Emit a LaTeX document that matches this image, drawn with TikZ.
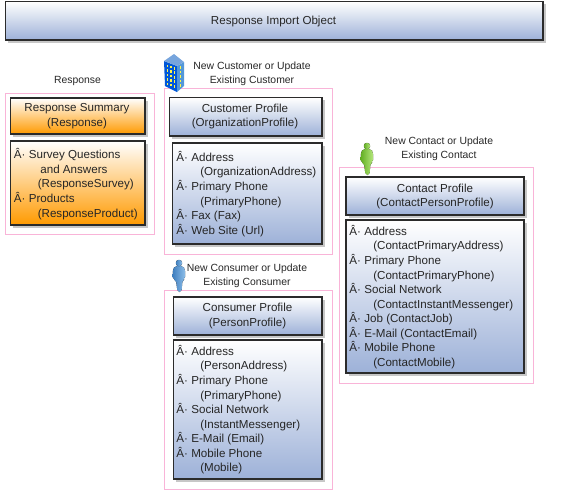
\documentclass[tikz,border=0pt]{standalone}
\usepackage{fontspec}
\usepackage{xcolor}
\setmainfont{Liberation Sans}
\usetikzlibrary{shadows}

\definecolor{framepink}{HTML}{F9B4D8}
\definecolor{boxblue}{HTML}{9DB1D8}
\definecolor{boxorange}{HTML}{FF9A00}
\definecolor{boxedge}{HTML}{2B2B2B}
\definecolor{persblue}{HTML}{3F7FBF}
\definecolor{persbluelt}{HTML}{8CBDE8}
\definecolor{persgreen}{HTML}{62AE22}
\definecolor{persgreenlt}{HTML}{B4E67C}
\newcommand{\itm}{Â·\hspace{2.6pt}}
\newcommand{\ind}{\hspace*{18pt}}

\tikzset{
    bluebox/.style={draw=boxedge, line width=0.9pt, top color=white, bottom color=boxblue,
        drop shadow={shadow xshift=2.2pt, shadow yshift=-2.2pt, fill=black!22, opacity=1}},
    orangebox/.style={draw=boxedge, line width=0.9pt, top color=white, bottom color=boxorange,
        drop shadow={shadow xshift=2.2pt, shadow yshift=-2.2pt, fill=black!22, opacity=1}},
    pinkframe/.style={draw=framepink, line width=0.7pt},
    grouplabel/.style={align=center, font=\fontsize{7.8}{10.7}\selectfont},
    pics/personicon/.style 2 args={code={
        \fill[left color=#1, right color=#2, rounded corners=1.5pt]
            (-4,7) -- (4,7) -- (6,10) -- (6,20) -- (3.5,21) -- (2.5,33) -- (-1.5,33) -- (-3,21) -- (-6.5,20) -- (-6,10) -- cycle;
        \fill[left color=#1, right color=#2] (0,4) circle (3.2);
    }}
}

\begin{document}
\begin{tikzpicture}[x=0.75pt, y=-0.75pt, every node/.style={font=\fontsize{8.7}{10.9}\selectfont, text=black!85, inner sep=0pt}]
    \useasboundingbox (0,0) rectangle (573,490);

    % Import object
    \draw[bluebox] (5.5,1.5) rectangle (543,40);
    \node[align=center] (importobj) at (273.5,21.5) {Response Import Object};

    % Response
    \draw[pinkframe] (5.5,93) rectangle (154.5,234);
    \node[grouplabel] (resplabel) at (77.5,81) {Response};
    \draw[orangebox] (10.5,98) rectangle (145,134);
    \node[align=center] (respsummary) at (77,116) {Response Summary\\(Response)};
    \draw[orangebox] (10.5,141) rectangle (145,225);
    \node[align=left, anchor=north west] (resplist) at (13.5,148.5)
        {\itm Survey Questions\\
         \hspace*{20pt}and Answers\\
         \ind (ResponseSurvey)\\
         \itm Products\\
         \ind (ResponseProduct)};

    % Customer
    \draw[pinkframe] (164,88.5) rectangle (332,254);
    \node[grouplabel] (custlabel) at (252,73.5) {New Customer or Update\\Existing Customer};
    \draw[bluebox] (169.5,97.5) rectangle (322,136);
    \node[align=center] (custtitle) at (245,116.5) {Customer Profile\\(OrganizationProfile)};
    \draw[bluebox] (172.5,143) rectangle (322,244);
    \node[align=left, anchor=north west] (custlist) at (176,151)
        {\itm Address\\
         \ind (OrganizationAddress)\\
         \itm Primary Phone\\
         \ind (PrimaryPhone)\\
         \itm Fax (Fax)\\
         \itm Web Site (Url)};

    % Consumer
    \draw[pinkframe] (164,290) rectangle (332,489);
    \node[grouplabel] (conslabel) at (247,275.5) {New Consumer or Update\\Existing Consumer};
    \draw[bluebox] (173.5,297) rectangle (322,335);
    \node[align=center] (constitle) at (247.5,316) {Consumer Profile\\(PersonProfile)};
    \draw[bluebox] (173.5,340) rectangle (322,479);
    \node[align=left, anchor=north west] (conslist) at (176,345)
        {\itm Address\\
         \ind (PersonAddress)\\
         \itm Primary Phone\\
         \ind (PrimaryPhone)\\
         \itm Social Network\\
         \ind (InstantMessenger)\\
         \itm E-Mail (Email)\\
         \itm Mobile Phone\\
         \ind (Mobile)};

    % Contact
    \draw[pinkframe] (339,167.5) rectangle (533,383);
    \node[grouplabel] (contlabel) at (439,148.5) {New Contact or Update\\Existing Contact};
    \draw[bluebox] (346,177) rectangle (524,215);
    \node[align=center] (conttitle) at (435,196.5) {Contact Profile\\(ContactPersonProfile)};
    \draw[bluebox] (346,220) rectangle (524,373);
    \node[align=left, anchor=north west] (contlist) at (349,225)
        {\itm Address\\
         \ind (ContactPrimaryAddress)\\
         \itm Primary Phone\\
         \ind (ContactPrimaryPhone)\\
         \itm Social Network\\
         \ind (ContactInstantMessenger)\\
         \itm Job (ContactJob)\\
         \itm E-Mail (ContactEmail)\\
         \itm Mobile Phone\\
         \ind (ContactMobile)};

    % Icons
    \pic at (179,259) {personicon={persblue}{persbluelt}};
    \pic at (367,142) {personicon={persgreen}{persgreenlt}};

    \fill[blue!60!cyan!85!black] (164,61) -- (177,66) -- (177,92) -- (165,86) -- cycle;
    \fill[cyan!60!blue!70] (177,66) -- (184,62) -- (184,86) -- (177,92) -- cycle;
    \fill[cyan!55!blue!55] (174,54) -- (184,62) -- (177,66) -- (164,61) -- cycle;
    \foreach \i in {0,...,4}
        \foreach \j in {0,1,2}
            \fill[yellow!70!white] (166.5+3.5*\j,64.5+1.2*\j+4.5*\i) rectangle +(1.7,2.6);
    \foreach \i in {0,...,4}
        \fill[yellow!70!white] (179.5,66+4.5*\i) rectangle +(1.6,2.6);
\end{tikzpicture}
\end{document}
